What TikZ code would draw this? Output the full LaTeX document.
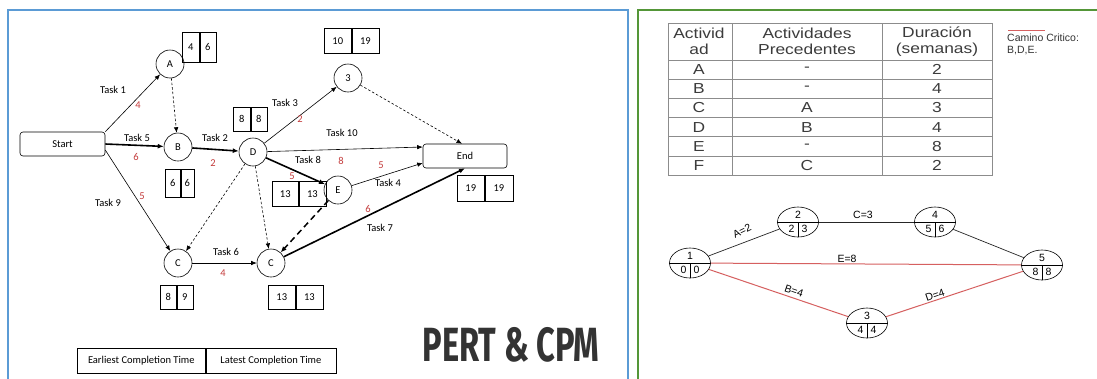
\documentclass[tikz,border=0pt]{standalone}
\usepackage{fontspec}
\setmainfont{Carlito}
\newfontfamily\arialf{Liberation Sans}
\newfontfamily\tabf[FakeStretch=1.2]{Liberation Sans}
\newfontfamily\titlef[FakeStretch=0.68]{Fira Sans}
\usetikzlibrary{arrows.meta,shapes.geometric}
\definecolor{bluebd}{RGB}{91,155,213}
\definecolor{greenbd}{RGB}{84,150,56}
\definecolor{rednum}{RGB}{196,60,60}
\definecolor{critred}{RGB}{214,96,96}
\definecolor{txtgray}{RGB}{51,51,51}
\definecolor{tabline}{RGB}{140,140,140}
\definecolor{tabtxt}{RGB}{60,60,60}
\newcommand\tbox[8]{%
  \node[cell, anchor=north west, minimum width=#4pt, minimum height=#6pt] (#1l) at (#2,#3) {#7};
  \node[cell, anchor=north west, minimum width=#5pt, minimum height=#6pt] (#1r) at (#1l.north east) {#8};}
\newcommand\enodeparts[4]{%
  \draw[line width=0.6pt] (#1.west) -- (#1.east);
  \draw[line width=0.6pt] (#1.center) -- (#1.south);
  \node[etxt] (#1t) at ([yshift=7.5pt]#1.center) {#2};
  \node[etxt] (#1a) at ([xshift=-6.5pt,yshift=-7pt]#1.center) {#3};
  \node[etxt] (#1b) at ([xshift=6.5pt,yshift=-7pt]#1.center) {#4};}
\begin{document}
\begin{tikzpicture}[x=1pt,y=-1pt,
  every node/.style={font=\fontsize{10.5}{12}\selectfont, text=black},
  circ/.style={circle, draw, line width=0.6pt, minimum size=28pt, inner sep=0pt},
  rbox/.style={rectangle, rounded corners=3pt, draw, line width=0.6pt, minimum width=85pt, minimum height=24pt, inner sep=0pt},
  cell/.style={draw, line width=0.6pt, inner sep=0pt},
  arr/.style={line width=0.6pt, -{Latex[length=5.5pt,width=4.5pt]}},
  thickarr/.style={line width=1.6pt, -{Latex[length=6pt,width=5pt]}},
  dasharr/.style={line width=0.6pt, dash pattern=on 2.5pt off 2pt, -{Latex[length=5.5pt,width=4.5pt]}},
  thickdash/.style={line width=1.5pt, dash pattern=on 6pt off 4pt, -{Latex[length=6pt,width=5pt]}},
  lbl/.style={inner sep=0pt},
  rnum/.style={inner sep=0pt, text=rednum},
  tabtext/.style={font=\tabf\fontsize{14.5}{16}\selectfont, text=tabtxt, inner sep=0pt, align=center},
  enode/.style={ellipse, draw, line width=0.6pt, minimum width=41pt, minimum height=30pt, inner sep=0pt},
  etxt/.style={font=\arialf\fontsize{10.5}{12}\selectfont, inner sep=0pt},
  elbl/.style={font=\arialf\fontsize{10.5}{12}\selectfont, inner sep=0pt},
  blackedge/.style={line width=0.7pt, draw=black!85},
  rededge/.style={line width=1pt, draw=critred}]
\useasboundingbox (0,0) rectangle (1097,378);
\clip (0,0) rectangle (1097,378);
\fill[white] (0,0) rectangle (1097,378);
% panel borders
\draw[bluebd, line width=2pt] (8,10) rectangle (628,400);
\draw[greenbd, line width=2pt] (638,10) rectangle (1120,400);

% ---------------- left PERT network ----------------
\node[rbox] (Start) at (62.5,144) {Start};
\node[rbox, minimum width=84pt] (End) at (465,156) {End};
\node[circ] (A) at (170,64) {A};
\node[circ] (B) at (178,147) {B};
\node[circ] (D) at (253,152) {D};
\node[circ] (N3) at (348,78) {3};
\node[circ] (E) at (338,190) {E};
\node[circ] (CL) at (178,263) {C};
\node[circ] (CR) at (271,263) {C};

\tbox{bA}{182}{32}{17}{16}{30}{4}{6}
\tbox{bD}{233}{107}{17}{16}{24}{8}{8}
\tbox{bB}{165}{169}{15}{13}{28}{6}{6}
\tbox{bT}{324}{28}{27}{27}{25}{10}{19}
\tbox{bE}{272}{181}{26}{27}{25}{13}{13}
\tbox{bEnd}{457}{175}{27}{28}{26}{19}{19}
\tbox{bCL}{160}{285}{16}{16}{24}{8}{9}
\tbox{bCR}{268}{285}{27}{27}{24}{13}{13}
\tbox{leg}{77}{348}{128}{130}{25}{Earliest Completion Time}{Latest Completion Time}

\draw[arr] (Start.north east) -- (A);
\draw[thickarr] (Start.east) -- (B);
\draw[arr] ([yshift=-6pt]Start.east) -- (CL);
\draw[dasharr] (A) -- (B);
\draw[thickarr] (B) -- (D);
\draw[arr] (D) -- (N3);
\draw[arr] (D) -- ([yshift=9pt]End.west);
\draw[thickarr] (D) -- (E);
\draw[dasharr] (D) -- (CL);
\draw[dasharr] (D) -- (CR);
\draw[dasharr] (N3) -- ([xshift=-3pt]End.north);
\draw[arr] (E) -- ([yshift=-7pt]End.west);
\draw[thickdash] (E) -- (CR);
\draw[arr] (CL) -- (CR);
\draw[thickarr] (CR) -- (End.south);

\node[lbl] (t1) at (113,90) {Task 1};   \node[rnum] (r1) at (138,105) {4};
\node[lbl] (t5) at (137,138) {Task 5};  \node[rnum] (r5) at (136,157) {6};
\node[lbl] (t9) at (108,203) {Task 9};  \node[rnum] (r9) at (142,196) {5};
\node[lbl] (t2) at (215,138) {Task 2};  \node[rnum] (r2) at (213,163) {2};
\node[lbl] (t3) at (285,103) {Task 3};  \node[rnum] (r3) at (300,119) {2};
\node[lbl] (t10) at (342,133) {Task 10}; \node[rnum] (r10) at (341,161) {8};
\node[lbl] (t8) at (308,160) {Task 8};  \node[rnum] (r8) at (292,176) {5};
\node[lbl] (t4) at (388,183) {Task 4};  \node[rnum] (r4) at (381,165) {5};
\node[lbl] (t6) at (226,252) {Task 6};  \node[rnum] (r6) at (223,273) {4};
\node[lbl] (t7) at (380,228) {Task 7};  \node[rnum] (r7) at (368,209) {6};

\node[inner sep=0pt, font=\titlef\bfseries\fontsize{48}{50}\selectfont, text=txtgray] (title) at (511,345) {PERT \& CPM};

% ---------------- right table ----------------
\draw[tabline, line width=0.6pt] (668,23) rectangle (992,175);
\foreach \yy in {60,79.2,98.3,117.5,136.7,155.8} \draw[tabline, line width=0.6pt] (668,\yy) -- (992,\yy);
\draw[tabline, line width=0.6pt] (732,23) -- (732,175);
\draw[tabline, line width=0.6pt] (882,23) -- (882,175);
\node[tabtext] (h1) at (699,41.5) {Activid\\ad};
\node[tabtext] (h2) at (807,41.5) {Actividades\\Precedentes};
\node[tabtext] (h3) at (937,41.5) {Duración\\(semanas)};
\foreach \r/\p/\d [count=\i] in {A/-/2,B/-/4,C/A/3,D/B/4,E/-/8,F/C/2}{
  \pgfmathsetmacro\yc{60+(\i-0.5)*19.17}
  \node[tabtext] (ra\i) at (699,\yc) {\r};
  \node[tabtext] (rp\i) at (807,\yc) {\p};
  \node[tabtext] (rd\i) at (937,\yc) {\d};
}
\coordinate (crA) at (1008,30);
\coordinate (crB) at (1045,30);
\draw[critred, line width=0.8pt] (crA) -- (crB);
\node[anchor=west, font=\arialf\fontsize{10.5}{12}\selectfont, text=txtgray, inner sep=0pt] (cam1) at (1007,38) {Camino Critico:};
\node[anchor=west, font=\arialf\fontsize{10.5}{12}\selectfont, text=txtgray, inner sep=0pt] (cam2) at (1007,51) {B,D,E.};

% ---------------- right network ----------------
\node[enode] (M1) at (690,263) {};
\node[enode] (M2) at (798,222) {};
\node[enode] (M4) at (935,222) {};
\node[enode] (M5) at (1042,265) {};
\node[enode] (M3) at (867,323) {};
\enodeparts{M1}{1}{0}{0}
\enodeparts{M2}{2}{2}{3}
\enodeparts{M4}{4}{5}{6}
\enodeparts{M5}{5}{8}{8}
\enodeparts{M3}{3}{4}{4}
\draw[blackedge] (M1) -- (M2);
\draw[blackedge] (M2) -- (M4);
\draw[blackedge] (M4) -- (M5);
\draw[rededge] (M1) -- (M5);
\draw[rededge] (M1) -- (M3);
\draw[rededge] (M3) -- (M5);
\node[elbl, rotate=26] (eA) at (742,231) {A=2};
\node[elbl] (eC) at (863,215) {C=3};
\node[elbl] (eE) at (847,259) {E=8};
\node[elbl, rotate=-19] (eB) at (794,291) {B=4};
\node[elbl, rotate=19] (eD) at (935,295) {D=4};
\end{tikzpicture}
\end{document}
